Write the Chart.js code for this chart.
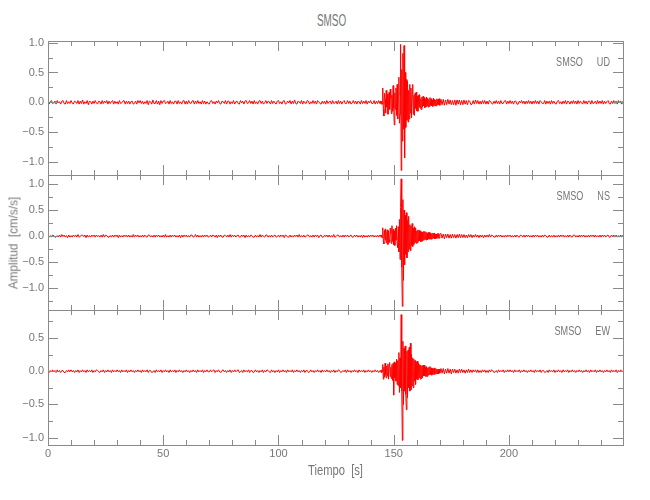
<!DOCTYPE html>
<html>
<head>
<meta charset="utf-8">
<title>SMSO</title>
<script src="https://cdn.jsdelivr.net/npm/chart.js@4.4.1/dist/chart.umd.min.js"></script>
<style>
    body { margin: 0; background: #ffffff; }
    #wrap { position: relative; width: 650px; height: 500px; background: #ffffff; overflow: hidden;
            font-family: 'Liberation Sans', Arial, sans-serif; color: #777777; }
    .panel { position: absolute; left: 0; width: 650px; }
    #title { position: absolute; left: 44px; width: 575px; top: 13px; text-align: center;
             font-size: 16px; line-height: 16px; transform: scaleX(0.62); }
    #xtitle { position: absolute; left: 48px; width: 575px; top: 463px; text-align: center;
              font-size: 14px; line-height: 14px; transform: scaleX(0.8); }
    #ytitle { position: absolute; left: 13px; top: 243px; font-size: 13px; line-height: 13px; white-space: nowrap;
              transform: translate(-50%, -50%) rotate(-90deg) scaleX(0.9); }
</style>
</head>
<body>
<div id="wrap">
    <div id="title">SMSO</div>
    <canvas id="p1" class="panel" style="top:37px;height:142px" width="650" height="142"></canvas>
    <canvas id="p2" class="panel" style="top:171px;height:143px" width="650" height="143"></canvas>
    <canvas id="p3" class="panel" style="top:306px;height:156px" width="650" height="156"></canvas>
    <div id="xtitle">Tiempo&nbsp; [s]</div>
    <div id="ytitle">Amplitud&nbsp; [cm/s/s]</div>
</div>
<script>
// station / components, one panel each
const station = 'SMSO';
const components = ['UD', 'NS', 'EW'];
const yMins = [-1.217, -1.42, -1.11];
const yMaxs = [1.027, 1.174, 0.92];
const xLabelTicks = [0, 50, 100, 150, 200];

// sampling: [start, end, step] in seconds
const sampleSegments = [[0, 144, 0.5], [144.25, 170, 0.25], [170.5, 250, 0.5]];

// UD trace (cm/s/s)
const udPre = [
    0.02,-0.03,0.01,0.03,-0.02,-0.01,0.02,-0.03,0.03,-0.01,0.01,-0.03,0.02,0.03,-0.02,-0.03,0.03,-0.02,0.01,-0.02,
    0.03,-0.01,-0.03,0.02,0.01,-0.02,0.03,-0.03,0.02,-0.02,0.04,-0.03,0.01,-0.02,0.03,-0.04,0.02,0.01,-0.03,0.02,
    -0.02,0.03,-0.01,-0.03,0.02,0.01,-0.03,0.03,-0.02,0.02,-0.01,0.03,-0.03,0.02,-0.02,0.01,0.03,-0.03,0.02,-0.02,
    0.01,-0.03,0.03,-0.02,-0.01,0.02,0.03,-0.03,0.02,-0.02,0.02,-0.03,0.01,0.02,-0.03,-0.02,0.02,-0.03,0.03,-0.01,
    0.03,-0.02,0.02,-0.03,0.01,-0.02,0.03,-0.04,0.02,0.01,-0.03,0.04,-0.02,-0.02,0.03,-0.03,0.02,-0.04,0.03,-0.02,
    0.02,0.03,-0.02,-0.01,0.02,-0.03,0.03,-0.02,0.01,-0.03,0.02,0.02,-0.03,0.03,-0.02,0.01,-0.03,0.02,0.03,-0.03,
    0.02,-0.03,0.03,-0.01,-0.02,0.02,0.03,-0.03,0.02,-0.02,0.03,-0.02,0.01,-0.03,0.03,-0.02,0.02,-0.03,0.01,-0.02,
    -0.03,0.02,0.03,-0.02,0.01,-0.03,0.02,-0.01,0.03,-0.02,-0.03,0.02,0.01,-0.02,0.03,-0.03,0.02,0.02,-0.03,0.01,
    -0.02,0.03,-0.03,0.01,0.02,-0.02,-0.03,0.03,-0.01,0.02,-0.03,0.02,0.03,-0.02,-0.01,0.03,-0.02,0.02,-0.03,0.03,
    -0.02,0.01,-0.03,0.02,0.03,-0.02,0.02,-0.03,-0.01,0.03,-0.02,0.02,0.01,-0.03,0.03,-0.02,0.02,-0.01,-0.03,0.02,
    0.03,-0.02,0.01,-0.03,0.02,0.03,-0.03,-0.02,0.02,-0.01,0.03,-0.03,0.02,-0.02,0.04,-0.02,-0.03,0.02,0.01,-0.02,
    0.03,-0.03,0.02,-0.01,-0.02,0.03,0.02,-0.03,0.01,-0.02,0.03,-0.02,0.02,-0.03,0.03,0.01,-0.02,-0.03,0.02,-0.02,
    0.02,-0.03,0.03,-0.02,0.01,0.02,-0.03,0.03,-0.02,-0.01,0.02,-0.03,0.03,-0.02,0.02,-0.03,0.01,0.03,-0.02,-0.02,
    0.03,-0.02,0.02,-0.03,-0.01,0.03,-0.02,0.02,-0.03,0.02,0.01,-0.03,0.03,-0.02,0.02,-0.02,0.03,-0.03,0.02,-0.01,
    0.03,-0.02,-0.02,0.03,-0.03,0.02,-0.02,0.03,-0.02
];
const udEvent = [
    0.02,-0.03,0.02,-0.03,  0.24,-0.12,-0.23,0.15,  0.05,-0.18,0.2,-0.08,  0.14,-0.2,-0.05,0.17,
    -0.12,0.22,0.08,-0.19,  0.12,-0.15,0.28,-0.1,  -0.38,0.16,-0.12,0.24,  -0.22,0.3,-0.28,0.12,
    0.42,-0.35,-0.2,0.97,  -1.14,0.55,-0.65,0.82,  -0.45,0.95,-0.93,0.5,  -0.42,0.38,-0.3,0.35,
    -0.33,0.2,-0.28,0.3,  -0.18,0.24,-0.26,0.15,  0.3,-0.2,0.12,-0.22,  0.15,-0.1,0.17,-0.14,
    0.1,-0.15,0.12,-0.08,  0.13,-0.1,0.06,-0.12,  0.09,-0.08,0.1,-0.06,  0.08,-0.09,0.05,-0.08,
    0.09,-0.06,0.07,-0.08,  0.05,-0.07,0.08,-0.05,  0.06,-0.06,0.04,-0.07,  0.07,-0.05,0.05,-0.06,
    0.04,-0.06,0.06,-0.04,  0.05,-0.04,0.06,-0.05
];
const udPost = [
    0.05,-0.04,0.05,-0.05,0.04,-0.04,0.05,-0.03,0.04,-0.04,0.03,-0.04,0.04,-0.05,0.04,-0.03,0.04,-0.04,0.03,-0.04,
    0.04,-0.03,0.03,-0.04,0.03,0.02,-0.04,-0.03,0.03,-0.03,0.04,-0.02,0.03,-0.03,0.02,-0.03,0.03,-0.02,0.03,-0.03,
    0.02,-0.03,0.03,0.02,-0.02,-0.03,0.02,-0.02,0.03,-0.02,0.02,-0.03,0.03,-0.02,-0.02,0.02,0.03,-0.03,0.02,-0.02,
    0.03,-0.02,0.02,-0.03,0.02,0.02,-0.03,-0.03,0.02,-0.01,0.03,-0.02,0.02,-0.03,0.02,-0.02,0.03,-0.02,0.02,-0.03,
    0.02,-0.02,0.03,-0.02,0.02,-0.03,0.03,0.01,-0.02,-0.02,0.03,-0.03,0.02,-0.02,0.02,-0.03,0.03,-0.02,0.02,-0.02,
    -0.03,0.02,0.03,-0.02,0.01,-0.03,0.02,-0.02,0.03,-0.03,0.02,0.01,-0.03,0.02,-0.02,0.03,-0.02,0.02,-0.03,0.03,
    -0.02,0.02,-0.01,-0.03,0.03,-0.02,0.02,-0.03,0.02,0.02,-0.03,0.03,-0.02,-0.01,0.02,-0.03,0.03,-0.02,0.02,-0.02,
    0.03,-0.03,0.02,-0.02,0.01,0.03,-0.02,-0.03,0.02,-0.02,0.03,-0.02,0.02,-0.03,0.03,-0.01,0.02,-0.03,0.02,-0.02
];

// NS trace
const nsPre = [
    0.02,-0.02,0.01,-0.02,0.02,0.01,-0.02,-0.02,0.01,-0.02,0.02,-0.02,0.03,-0.01,0.02,-0.02,0.01,-0.03,0.02,-0.02,
    0.01,-0.02,0.02,-0.01,0.02,-0.02,0.03,-0.02,-0.01,0.02,0.02,-0.01,0.02,-0.03,0.02,-0.02,0.01,-0.02,0.02,-0.01,
    0.02,-0.02,0.02,-0.01,0.01,-0.02,0.02,-0.02,0.03,-0.02,0.02,0.01,-0.02,-0.02,0.01,-0.02,0.02,-0.02,0.02,-0.01,
    0.02,-0.03,0.02,-0.02,0.01,-0.02,0.02,-0.01,0.02,-0.02,0.02,-0.02,0.01,-0.02,0.03,-0.02,0.02,-0.01,0.02,-0.02,
    0.01,-0.02,0.02,-0.02,0.02,-0.01,-0.02,0.02,0.02,-0.02,0.01,-0.02,0.02,-0.02,0.02,-0.01,0.02,-0.02,0.01,-0.02,
    0.02,-0.02,0.03,-0.02,0.01,-0.02,0.02,-0.02,0.02,-0.01,0.02,-0.02,0.01,-0.02,0.02,-0.03,0.02,-0.02,0.02,-0.01,
    0.02,-0.02,0.01,-0.02,0.02,0.02,-0.02,-0.01,0.03,-0.02,0.02,-0.02,0.01,-0.02,0.02,-0.02,0.02,-0.01,0.02,-0.02,
    -0.01,0.02,-0.02,0.02,0.01,-0.02,0.02,-0.03,0.02,-0.01,0.02,-0.02,-0.02,0.02,0.01,-0.02,0.02,-0.02,0.03,-0.02,
    0.02,-0.01,0.02,-0.02,0.01,0.02,-0.02,-0.02,0.02,-0.01,0.02,-0.03,0.02,-0.02,0.01,-0.02,0.02,0.01,-0.02,-0.02,
    0.02,-0.02,0.01,-0.02,0.03,-0.02,0.02,-0.01,-0.02,0.02,0.02,-0.02,0.01,-0.02,0.02,-0.02,0.01,0.02,-0.02,-0.01,
    0.02,-0.02,0.02,-0.01,0.02,-0.03,0.02,0.01,-0.02,-0.02,0.02,-0.02,0.01,-0.02,0.02,-0.01,0.02,-0.02,0.03,-0.02,
    0.01,-0.02,0.02,-0.02,-0.01,0.02,0.02,-0.02,0.01,-0.02,0.02,-0.02,0.02,-0.01,0.02,-0.03,0.01,0.02,-0.02,-0.02,
    0.02,-0.01,0.02,-0.02,0.02,-0.02,0.01,-0.02,0.03,-0.02,-0.01,0.02,0.02,-0.02,0.01,-0.02,0.02,-0.02,0.02,-0.01,
    0.02,-0.02,0.01,0.02,-0.02,-0.02,0.02,-0.01,0.02,-0.02,0.01,-0.02,0.02,-0.03,0.02,-0.02,0.01,-0.02,0.02,-0.02,
    0.02,-0.01,0.02,-0.02,0.01,-0.02,0.02,-0.02,0.02
];
const nsEvent = [
    0.02,-0.02,0.02,-0.03,  0.16,-0.1,-0.15,0.12,  -0.08,0.14,-0.13,0.06,  0.12,-0.16,0.1,-0.07,
    -0.12,0.15,0.05,-0.14,  0.2,-0.1,0.13,-0.17,  0.1,-0.18,0.15,-0.08,  0.2,-0.15,-0.22,0.18,
    -0.3,0.32,-0.45,0.55,  1.1,-0.6,-1.35,0.7,  -0.85,0.5,-0.55,0.4,  -0.35,0.45,-0.42,0.3,
    -0.3,0.38,-0.25,0.22,  -0.28,0.2,-0.18,0.24,  -0.2,0.15,-0.16,0.18,  -0.12,0.16,-0.14,0.1,
    -0.13,0.12,-0.1,0.11,  -0.09,0.1,-0.11,0.08,  -0.1,0.07,-0.08,0.09,  -0.07,0.09,-0.06,0.08,
    -0.08,0.06,-0.07,0.07,  -0.05,0.07,-0.06,0.05,  -0.06,0.05,-0.05,0.06,  -0.04,0.06,-0.05,0.04,
    -0.05,0.04,-0.04,0.05,  -0.04,0.05,-0.04,0.04
];
const nsPost = [
    0.05,-0.04,0.04,-0.05,0.04,-0.03,0.04,-0.04,0.03,-0.04,0.04,-0.03,0.03,-0.04,0.03,-0.03,0.04,-0.03,0.03,-0.03,
    0.03,-0.03,0.02,-0.03,0.03,-0.02,0.03,-0.03,0.02,-0.02,0.03,-0.02,0.02,-0.03,0.02,-0.02,0.02,-0.03,0.02,-0.02,
    0.02,-0.02,0.03,-0.02,0.02,0.01,-0.02,-0.02,0.02,-0.02,0.02,-0.01,0.02,-0.02,0.01,-0.02,0.02,-0.02,0.02,-0.01,
    0.02,-0.02,0.01,-0.02,0.02,-0.02,0.02,-0.01,-0.02,0.02,0.01,-0.02,0.02,-0.02,0.02,-0.01,0.02,-0.02,0.01,-0.02,
    0.02,-0.02,0.02,-0.01,0.02,-0.02,0.01,-0.02,0.02,-0.02,0.02,0.01,-0.02,-0.02,0.02,-0.02,0.01,-0.02,0.02,-0.02,
    0.01,-0.02,0.02,-0.02,0.02,-0.01,0.02,-0.02,0.01,-0.02,0.02,-0.02,0.02,-0.01,-0.02,0.02,0.02,-0.02,0.01,-0.02,
    0.02,-0.02,0.02,-0.01,0.02,-0.02,0.01,-0.02,0.02,-0.02,0.02,-0.01,0.02,-0.02,0.02,-0.02,0.01,-0.02,0.02,-0.02,
    0.02,-0.01,0.02,-0.02,0.01,0.02,-0.02,-0.02,0.02,-0.01,0.02,-0.02,0.02,-0.02,0.01,-0.02,0.02,-0.02,0.02,-0.01
];

// EW trace
const ewPre = [
    0.01,-0.02,0.01,-0.01,0.02,-0.01,0.01,-0.02,0.02,-0.01,0.01,-0.02,0.01,0.01,-0.02,-0.02,0.01,-0.01,0.02,-0.01,
    0.02,-0.01,0.01,-0.02,0.01,-0.01,0.02,-0.02,0.01,-0.01,0.02,-0.01,0.01,-0.02,0.02,-0.01,0.01,-0.01,0.02,-0.02,
    0.01,-0.01,0.02,0.01,-0.01,-0.02,0.01,-0.01,0.02,-0.02,0.01,-0.01,0.02,-0.01,0.01,-0.02,0.02,-0.01,0.01,-0.01,
    0.02,-0.01,0.01,-0.02,0.02,-0.01,0.01,-0.01,0.02,-0.02,0.01,-0.01,0.02,-0.01,0.01,-0.02,0.01,-0.01,0.02,-0.01,
    0.01,-0.02,0.02,-0.01,0.01,-0.01,0.02,-0.02,0.01,0.01,-0.02,-0.01,0.01,-0.02,0.02,-0.01,0.01,-0.01,0.02,-0.02,
    0.01,-0.01,0.02,-0.01,0.01,-0.02,0.02,-0.01,0.01,-0.01,0.02,-0.02,0.01,-0.01,0.02,-0.01,0.01,-0.02,0.01,-0.01,
    0.02,-0.01,0.01,-0.02,0.01,-0.01,0.02,-0.01,0.01,-0.02,0.02,-0.01,0.01,-0.01,0.02,-0.02,0.01,-0.01,0.02,-0.01,
    -0.01,0.02,-0.01,0.01,0.02,-0.02,0.01,-0.01,0.02,-0.01,-0.02,0.01,0.02,-0.01,0.01,-0.02,0.01,-0.01,0.02,-0.02,
    0.01,-0.01,0.02,-0.01,0.01,0.02,-0.02,-0.01,0.01,-0.02,0.02,-0.01,0.01,-0.01,0.02,-0.02,0.01,0.01,-0.02,-0.01,
    0.02,-0.01,0.01,-0.02,0.01,-0.01,0.02,-0.02,0.01,-0.01,0.02,0.01,-0.01,-0.02,0.02,-0.01,0.01,-0.02,0.01,-0.01,
    0.02,-0.02,0.01,-0.01,0.02,-0.01,0.01,-0.02,0.02,-0.01,0.01,-0.01,0.02,-0.02,0.01,-0.01,0.02,-0.01,0.01,-0.02,
    0.01,-0.01,0.02,-0.02,0.01,0.01,-0.02,-0.01,0.02,-0.01,0.01,-0.02,0.01,-0.01,0.02,-0.01,0.01,-0.02,0.02,-0.01,
    0.01,-0.01,0.02,-0.01,0.01,-0.02,0.01,-0.01,0.02,-0.02,0.01,-0.01,0.02,0.01,-0.02,-0.01,0.01,-0.01,0.02,-0.02,
    0.02,-0.01,0.01,-0.02,0.01,-0.01,0.02,-0.01,0.01,-0.02,0.02,-0.01,0.01,-0.01,0.02,-0.02,0.01,-0.01,0.02,-0.01,
    0.01,-0.02,0.01,-0.01,0.02,-0.01,0.01,-0.02,0.01
];
const ewEvent = [
    0.01,-0.02,0.02,-0.01,  0.1,-0.12,0.06,-0.09,  0.12,-0.05,-0.1,0.08,  -0.07,0.11,-0.12,0.09,
    0.13,-0.08,0.06,-0.11,  0.1,-0.14,0.12,-0.36,  0.14,-0.1,0.12,-0.15,  0.18,-0.2,0.16,-0.22,
    0.28,-0.32,0.2,-0.25,  0.85,-0.3,-1.04,0.45,  -0.5,0.35,-0.3,0.38,  -0.35,-0.58,0.3,-0.4,
    0.32,-0.25,0.36,-0.3,  0.42,-0.28,0.25,-0.22,  0.2,-0.25,0.18,-0.15,  0.16,-0.2,0.14,-0.12,
    0.15,-0.13,0.12,-0.1,  0.1,-0.12,0.09,-0.11,  0.08,-0.1,0.09,-0.07,  0.09,-0.07,0.06,-0.08,
    0.07,-0.08,0.05,-0.06,  0.06,-0.05,0.07,-0.05,  0.05,-0.06,0.04,-0.05,  0.04,-0.05,0.05,-0.04,
    0.04,-0.04,0.03,-0.04,  0.03,-0.04,0.03,-0.03
];
const ewPost = [
    0.04,-0.03,0.04,-0.04,0.03,-0.03,0.04,-0.03,0.03,-0.04,0.03,-0.02,0.03,-0.03,0.02,-0.03,0.03,-0.02,0.03,-0.02,
    0.02,-0.03,0.02,-0.02,0.03,-0.02,0.02,-0.02,0.02,-0.01,0.02,-0.02,0.02,-0.02,0.01,-0.02,0.02,-0.01,0.02,-0.02,
    0.01,-0.02,0.02,-0.01,0.02,0.01,-0.02,-0.01,0.01,-0.02,0.02,-0.01,0.01,-0.01,0.02,-0.02,0.01,-0.01,0.02,-0.01,
    0.02,-0.01,0.01,-0.02,0.02,-0.01,0.01,-0.01,0.02,-0.02,0.01,-0.01,0.02,-0.01,0.01,-0.02,0.01,-0.01,0.02,-0.01,
    0.01,-0.02,0.02,-0.01,0.01,-0.01,0.02,-0.02,0.01,0.01,-0.02,-0.01,0.01,-0.02,0.02,-0.01,0.01,-0.01,0.02,-0.02,
    0.01,-0.01,0.02,-0.01,0.01,-0.02,0.02,-0.01,0.01,-0.01,0.02,-0.02,0.01,-0.01,0.02,-0.01,0.01,-0.02,0.01,-0.01,
    0.02,-0.01,0.01,-0.02,0.01,-0.01,0.02,-0.01,0.01,-0.02,0.02,-0.01,0.01,-0.01,0.02,-0.02,0.01,-0.01,0.02,-0.01,
    0.01,-0.02,0.01,-0.01,0.02,-0.01,0.01,-0.02,0.02,-0.01,0.01,-0.01,0.02,-0.02,0.01,-0.01,0.02,-0.01,0.01,-0.02
];

const AXIS_COLOR = '#8a8a8a';
const TEXT_COLOR = '#777777';
const TRACE_COLOR = '#ff0000';
const FONT = "'Liberation Sans', Arial, sans-serif";

Chart.defaults.font.family = FONT;
Chart.defaults.font.size = 11;
Chart.defaults.color = TEXT_COLOR;

function buildTimes() {
    const times = [];
    sampleSegments.forEach(([start, end, step]) => {
        const n = Math.round((end - start) / step);
        for (let i = 0; i <= n; i++) times.push(start + i * step);
    });
    return times;
}

const times = buildTimes();
const traces = [
    udPre.concat(udEvent, udPost),
    nsPre.concat(nsEvent, nsPost),
    ewPre.concat(ewEvent, ewPost)
];
traces.forEach((tr, i) => {
    if (tr.length !== times.length) console.warn('trace', components[i], tr.length, 'vs', times.length);
});

function isMultiple(v, step) {
    return Math.abs(v / step - Math.round(v / step)) < 1e-6;
}

function fmtY(v) {
    const s = Math.abs(v).toFixed(1);
    return v < -1e-9 ? '\u2212' + s : s;
}

// IDL style frame: box + ticks pointing inward, station/component tag
const framePlugin = {
    id: 'frame',
    afterDraw(chart, args, opts) {
        const { ctx, chartArea: a, scales: { x, y } } = chart;
        ctx.save();
        ctx.strokeStyle = AXIS_COLOR;
        ctx.lineWidth = 1;
        ctx.beginPath();
        x.ticks.forEach(t => {
            const px = Math.round(x.getPixelForValue(t.value)) + 0.5;
            const len = isMultiple(t.value, 50) ? 10 : 5;
            ctx.moveTo(px, a.bottom); ctx.lineTo(px, a.bottom - len);
            ctx.moveTo(px, a.top); ctx.lineTo(px, a.top + len);
        });
        y.ticks.forEach(t => {
            const py = Math.round(y.getPixelForValue(t.value)) + 0.5;
            const len = isMultiple(t.value, 0.5) ? 10 : 5;
            ctx.moveTo(a.left, py); ctx.lineTo(a.left + len, py);
            ctx.moveTo(a.right, py); ctx.lineTo(a.right - len, py);
        });
        ctx.stroke();
        ctx.strokeRect(Math.round(a.left) + 0.5, Math.round(a.top) + 0.5,
                       Math.round(a.right - a.left), Math.round(a.bottom - a.top));

        // narrow lettering, like the plotting font of the original
        ctx.fillStyle = TEXT_COLOR;
        ctx.font = '13px ' + FONT;
        ctx.textAlign = 'right';
        ctx.textBaseline = 'alphabetic';
        ctx.translate(a.right - 13, a.top + 25);
        ctx.scale(0.7, 1);
        ctx.fillText(opts.comp, 0, 0);
        const w = ctx.measureText(opts.comp).width;
        ctx.fillText(station, -w - 20, 0);
        ctx.restore();
    }
};

function noPadding(scale) {
    scale.paddingTop = 0;
    scale.paddingBottom = 0;
    scale.paddingLeft = 0;
    scale.paddingRight = 0;
}

function renderPanel(index) {
    const bottom = index === components.length - 1;
    const canvas = document.getElementById('p' + (index + 1));
    const points = times.map((t, i) => ({ x: t, y: traces[index][i] }));

    return new Chart(canvas.getContext('2d'), {
        type: 'line',
        data: {
            datasets: [{
                data: points,
                borderColor: TRACE_COLOR,
                borderWidth: 1,
                pointRadius: 0,
                tension: 0,
                fill: false
            }]
        },
        options: {
            responsive: false,
            animation: false,
            events: [],
            layout: { padding: { top: 4, right: 27, bottom: bottom ? 0 : 4, left: 0 } },
            plugins: {
                legend: { display: false },
                tooltip: { enabled: false },
                frame: { comp: components[index] }
            },
            scales: {
                x: {
                    type: 'linear',
                    min: 0,
                    max: 249.5,
                    border: { display: false },
                    grid: { display: false, drawTicks: false },
                    ticks: {
                        display: bottom,
                        stepSize: 10,
                        includeBounds: false,
                        autoSkip: false,
                        maxRotation: 0,
                        padding: 2,
                        callback: v => xLabelTicks.includes(v) ? String(v) : ''
                    },
                    afterFit: scale => { noPadding(scale); scale.height = bottom ? 17 : 0; }
                },
                y: {
                    min: yMins[index],
                    max: yMaxs[index],
                    border: { display: false },
                    grid: { display: false, drawTicks: false },
                    ticks: {
                        stepSize: 0.25,
                        includeBounds: false,
                        autoSkip: false,
                        padding: 4,
                        callback: v => isMultiple(v, 0.5) ? fmtY(v) : ''
                    },
                    afterFit: scale => { noPadding(scale); scale.width = 48; }
                }
            }
        },
        plugins: [framePlugin]
    });
}

components.forEach((c, i) => renderPanel(i));
</script>
</body>
</html>
